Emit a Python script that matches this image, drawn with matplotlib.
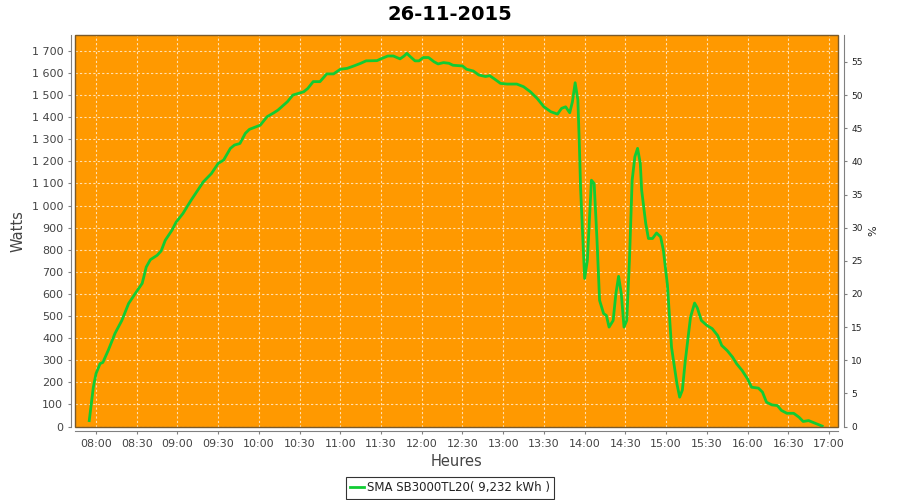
import matplotlib
matplotlib.use('Agg')
import matplotlib.pyplot as plt
import matplotlib.dates as mdates
import matplotlib.ticker as ticker
from matplotlib.patches import Rectangle
import pandas as pd

# power readings (W)
times = ['07:55', '07:58', '08:00', '08:03', '08:05', '08:09', '08:14', '08:19', '08:24', '08:29',
         '08:34', '08:37', '08:40', '08:45', '08:48', '08:51', '08:56', '08:59', '09:04', '09:10',
         '09:19', '09:25', '09:30', '09:34', '09:39', '09:42', '09:46', '09:50', '09:53', '10:01',
         '10:06', '10:11', '10:14', '10:21', '10:25', '10:33', '10:36', '10:40', '10:45', '10:50',
         '10:55', '11:00', '11:05', '11:10', '11:15', '11:19', '11:27', '11:31', '11:35', '11:39',
         '11:44', '11:47', '11:49', '11:51', '11:55', '11:58', '12:01', '12:05', '12:09', '12:12',
         '12:16', '12:20', '12:23', '12:30', '12:33', '12:38', '12:42', '12:47', '12:50', '12:54',
         '12:58', '13:03', '13:10', '13:15', '13:20', '13:25', '13:30', '13:35', '13:40', '13:43',
         '13:46', '13:49', '13:51', '13:53', '13:55', '13:56', '13:57', '14:00', '14:02', '14:05',
         '14:07', '14:09', '14:11', '14:14', '14:16', '14:18', '14:21', '14:23', '14:25', '14:27',
         '14:29', '14:31', '14:33', '14:35', '14:37', '14:39', '14:41', '14:42', '14:45', '14:47',
         '14:50', '14:53', '14:56', '14:58', '15:01', '15:04', '15:08', '15:10', '15:12', '15:14',
         '15:18', '15:21', '15:23', '15:26', '15:30', '15:34', '15:38', '15:41', '15:45', '15:49',
         '15:52', '15:56', '16:00', '16:03', '16:08', '16:11', '16:14', '16:18', '16:22', '16:25',
         '16:29', '16:34', '16:38', '16:41', '16:45', '16:49', '16:55']
watts = [27, 178, 240, 285, 290, 345, 422, 480, 557, 603,
         648, 722, 755, 775, 795, 843, 889, 925, 964, 1024,
         1107, 1145, 1191, 1206, 1259, 1274, 1281, 1327, 1345, 1364,
         1402, 1420, 1432, 1470, 1500, 1515, 1530, 1561, 1561, 1596,
         1596, 1617, 1621, 1632, 1644, 1655, 1656, 1667, 1677, 1677,
         1664, 1677, 1689, 1677, 1655, 1655, 1670, 1670, 1651, 1641,
         1647, 1644, 1635, 1632, 1617, 1609, 1591, 1584, 1588, 1571,
         1553, 1550, 1550, 1538, 1515, 1485, 1447, 1425, 1414, 1440,
         1447, 1420, 1470, 1556, 1478, 1296, 1080, 670, 752, 1115,
         1100, 858, 571, 511, 503, 450, 480, 601, 680, 601,
         450, 480, 752, 1115, 1221, 1259, 1191, 1070, 919, 851,
         851, 876, 858, 798, 640, 359, 193, 133, 165, 290,
         495, 559, 537, 480, 458, 443, 412, 367, 344, 314,
         284, 254, 216, 178, 174, 156, 110, 98, 95, 73,
         60, 60, 42, 23, 27, 17, 2]

title = '26-11-2015'
legend_label = 'SMA SB3000TL20( 9,232 kWh )'
nominal_power = 3000  # right axis = % of this

t = pd.to_datetime(['2015-11-26 ' + s for s in times])

fig = plt.figure(figsize=(9, 5), dpi=100)
ax = fig.add_axes([75 / 900, 73 / 500, 763 / 900, 392 / 500])
ax.set_facecolor('#ff9900')

line, = ax.plot(t, watts, color='#11cc33', lw=2, label=legend_label, zorder=3)

ymax = 1772
ax.set_ylim(-2, ymax)
ax.set_xlim(pd.Timestamp('2015-11-26 07:44:30'), pd.Timestamp('2015-11-26 17:06:40'))

ax.yaxis.set_major_locator(ticker.MultipleLocator(100))
ax.yaxis.set_major_formatter(ticker.FuncFormatter(lambda v, p: f'{int(v):,}'.replace(',', ' ')))
ax.xaxis.set_major_locator(mdates.MinuteLocator(byminute=[0, 30]))
ax.xaxis.set_major_formatter(mdates.DateFormatter('%H:%M'))

ax.grid(True, color='#ffe0b0', ls=(0, (2, 2)), lw=0.8)
ax.tick_params(axis='both', labelsize=8, colors='#808080', labelcolor='#444444', length=2, width=0.8)

for s in ['left', 'bottom']:
    ax.spines[s].set_position(('outward', 3))
    ax.spines[s].set_color('#808080')
ax.spines['top'].set_visible(False)
ax.spines['right'].set_visible(False)
ax.add_patch(Rectangle((0, 0), 1, 1, transform=ax.transAxes, fill=False,
                       ec='#7a5a2a', lw=1, zorder=4, clip_on=False))

ax.set_ylabel('Watts', fontsize=10.5, color='#444444')
ax.set_xlabel('Heures', fontsize=10.5, color='#444444', labelpad=4)

ax2 = ax.twinx()
ax2.set_ylim(-2 * 100 / nominal_power, ymax * 100 / nominal_power)
ax2.yaxis.set_major_locator(ticker.MultipleLocator(5))
ax2.tick_params(axis='y', labelsize=6.5, colors='#808080', labelcolor='#222222', length=2, width=0.8)
for s in ['left', 'bottom', 'top']:
    ax2.spines[s].set_visible(False)
ax2.spines['right'].set_position(('outward', 4))
ax2.spines['right'].set_color('#808080')
ax2.set_ylabel('%', fontsize=8, color='#222222', labelpad=4)

fig.text(0.5, 0.972, title, fontsize=14, fontweight='bold', ha='center', va='center')

leg = fig.legend(handles=[line], loc='center', bbox_to_anchor=(0.5, 0.024), fontsize=8.5,
                 frameon=True, fancybox=False, handlelength=1.2, handletextpad=0.3,
                 borderpad=0.35)
leg.get_frame().set_edgecolor('black')
leg.get_frame().set_linewidth(0.8)
for txt in leg.get_texts():
    txt.set_color('#222222')

fig.savefig('out.png', dpi=100)
